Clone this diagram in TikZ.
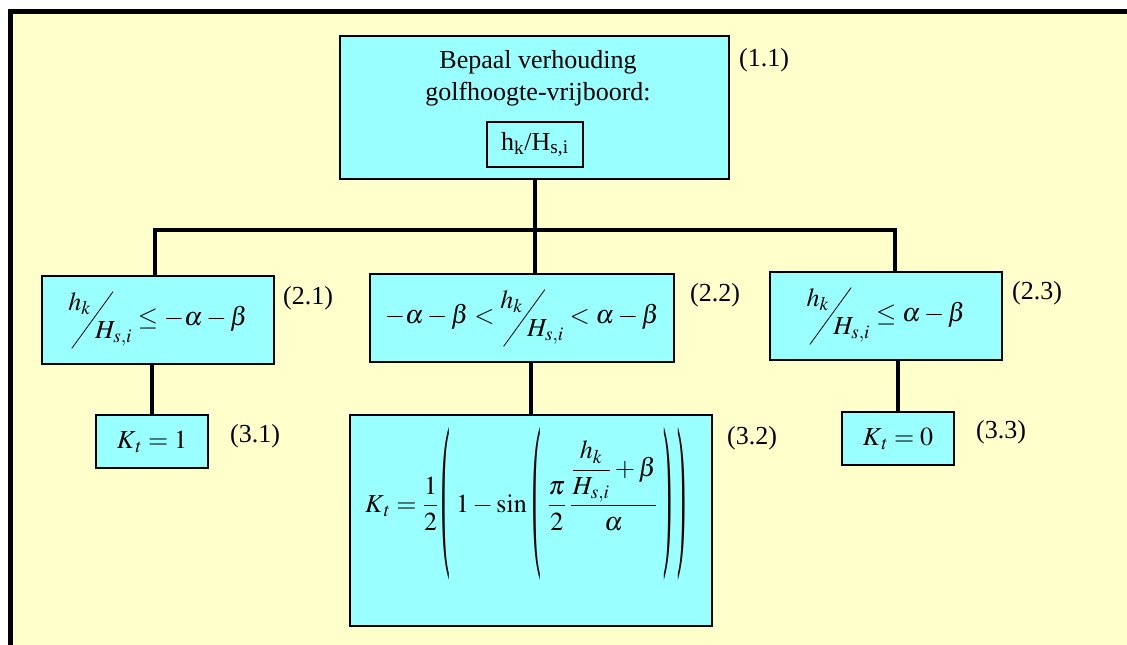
\documentclass[tikz,border=0pt]{standalone}
\usepackage{amsmath}
\usepackage{mathptmx}
\usepackage{graphicx}
\usepackage{fontspec}
\setmainfont{Liberation Serif}
\definecolor{flbg}{HTML}{FFFFCC}
\definecolor{flbox}{HTML}{99FFFF}
\newcommand{\hovH}{\raisebox{0.58em}{$h_k$}\kern-0.75em\raisebox{-0.9em}{\rotatebox{54}{\rule{2.7em}{0.6pt}}}\kern-0.7em\raisebox{-0.5em}{$H_{s,i}$}}
\newcommand{\tallL}{\raisebox{-1.25em}{\scalebox{1}[6.5]{(}}}
\newcommand{\tallR}{\raisebox{-1.25em}{\scalebox{1}[6.5]{)}}}

\begin{document}
\begin{tikzpicture}[x=0.75pt,y=-0.75pt,font=\fontsize{19.5}{24}\selectfont,
  box/.style={draw,line width=1.2pt,fill=flbox,inner sep=0pt},
  link/.style={line width=3pt},
  lbl/.style={inner sep=0pt}]
  \useasboundingbox (0,0) rectangle (1127,644);
  \fill[flbg] (10.5,11) rectangle (1140,660);
  \draw[line width=3.75pt] (10.5,660) -- (10.5,11) -- (1140,11);
  % top box
  \node[box,minimum width=291.75pt,minimum height=107.25pt] (hdr) at (534.5,107.5) {};
  \node[align=center] (hdrtxt) at (538,78) {Bepaal verhouding\\golfhoogte-vrijboord:};
  \node[box,line width=1pt,minimum width=72pt,minimum height=33.75pt] (ratio) at (535,144.5) {h\textsubscript{k}/H\textsubscript{s,i}};
  % conditions
  \node[box,minimum width=174pt,minimum height=66pt] (b21) at (158,320) {$\hovH \le -\alpha-\beta$};
  \node[box,minimum width=228pt,minimum height=66pt] (b22) at (522,318) {$-\alpha-\beta < \hovH < \alpha-\beta$};
  \node[box,minimum width=174pt,minimum height=66pt] (b23) at (886,316) {$\hovH \le \alpha-\beta$};
  % results
  \node[box,minimum width=84pt,minimum height=39.75pt] (b31) at (152,441.5) {$K_{\,t} = 1$};
  \node[box,minimum width=271.5pt,minimum height=158.25pt] (b32) at (531,520.5)
    {$\kern-0.4em K_{\,t} = \dfrac{1}{2}\,\tallL\; 1-\sin\,\tallL\;\dfrac{\pi}{2}\,\dfrac{\dfrac{h_k}{H_{s,i}}+\beta}{\alpha}\;\tallR\;\tallR\rule[-3.9em]{0pt}{1pt}$};
  \node[box,minimum width=84pt,minimum height=39.75pt] (b33) at (898,438.5) {$K_{\,t} = 0$};
  % connectors
  \coordinate (barL) at (155,230);
  \coordinate (barR) at (895,230);
  \draw[link] (hdr.south) -- (hdr.south |- b22.north);
  \draw[link] (barL |- b21.north) -- (barL) -- (barR) -- (barR |- b23.north);
  \draw[link] (b31.north |- b21.south) -- (b31.north);
  \draw[link] (b32.north |- b22.south) -- (b32.north);
  \draw[link] (b33.north |- b23.south) -- (b33.north);
  % equation numbers
  \foreach \k/\t/\x/\y in {l11/1.1/764/60,l21/2.1/308/298,l22/2.2/715/295,l23/2.3/1037/293,
                          l31/3.1/255/436,l32/3.2/752/438,l33/3.3/1001/432}
    {\node[lbl] (\k) at (\x,\y) {(\t)};}
\end{tikzpicture}
\end{document}
